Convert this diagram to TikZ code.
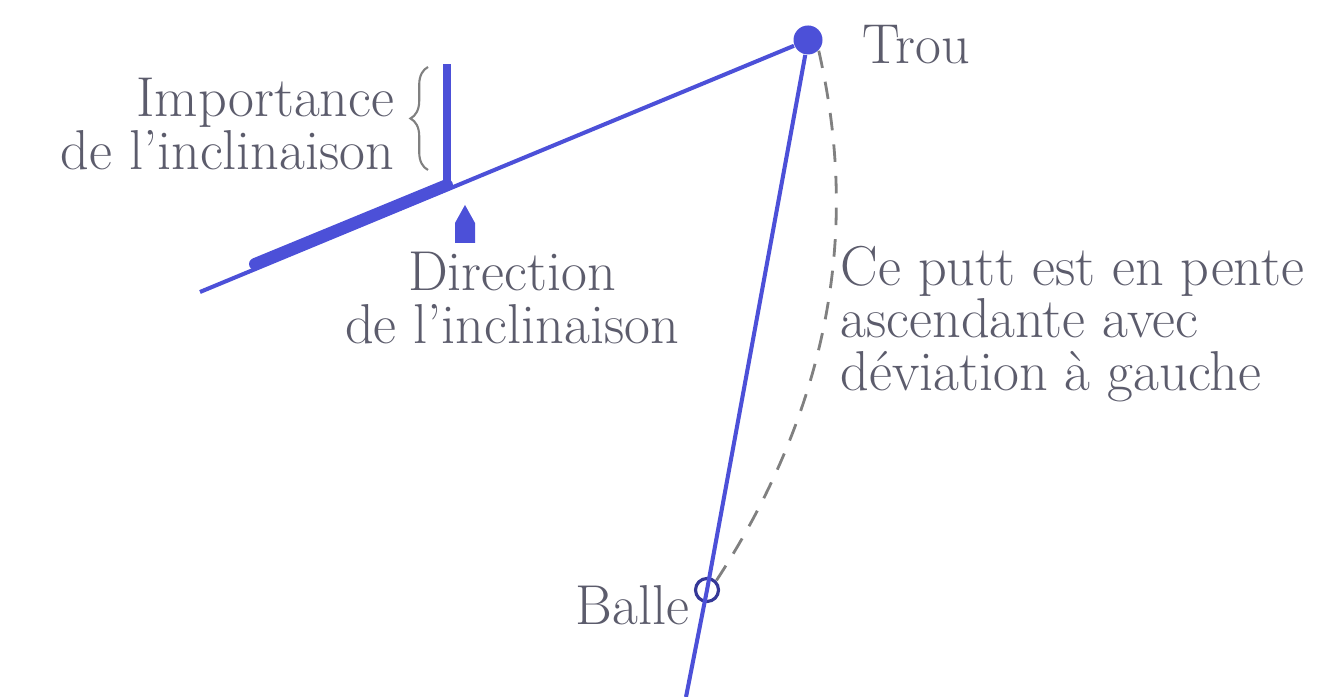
\documentclass[tikz,border=0pt]{standalone}
\usepackage{xcolor}
\definecolor{puttblue}{RGB}{76,80,216}
\definecolor{textgray}{RGB}{92,92,108}
\usepackage{tikz}
\usetikzlibrary{
  arrows.meta,
  positioning,
  calc,
  decorations.pathreplacing
}

\begin{document}
\begin{tikzpicture}[
  lbl/.style={font=\fontsize{16}{15}\selectfont, text=textgray, inner sep=0pt},
  pline/.style={puttblue, line width=1.15pt}
]
  \useasboundingbox (0,0) rectangle (13.29,6.97);

  % hole, ball and the putting line
  \node[circle, fill=puttblue, minimum size=0.29cm, inner sep=0pt] (trou) at (8.08,6.57) {};
  \node[circle, draw=puttblue!70!black, line width=0.9pt, minimum size=0.23cm, inner sep=0pt] (balle) at (7.07,1.07) {};
  \coordinate (bas) at (6.86,0);
  \coordinate (pente) at (2.00,4.05);
  \draw[pline] (bas) -- (balle.center) -- (trou);
  \draw[pline] (pente) -- (trou);

  % break of the putt
  \draw[gray, line width=0.8pt, dash pattern=on 5pt off 4pt]
    (trou.south east) .. controls (8.45,5.3) and (8.62,3.4) .. (balle.north east);

  % slope indicator
  \coordinate (barA) at (2.55,4.33);
  \coordinate (barB) at (4.47,5.12);
  \coordinate (barC) at (4.47,6.33);
  \draw[puttblue, line width=3.4pt, line cap=round] (barA) -- (barB);
  \draw[puttblue, line width=2.4pt] (barB) -- (barC);
  \draw[gray, line width=0.6pt, decorate, decoration={brace, amplitude=5pt}]
    (4.28,5.27) -- (4.28,6.30);
  \fill[puttblue] (4.55,4.54) -- (4.55,4.74) -- (4.65,4.92) -- (4.75,4.74) -- (4.75,4.54) -- cycle;

  \node[lbl, anchor=west] (ltrou) at (8.62,6.52) {Trou};
  \node[lbl, anchor=east, align=right] (limp) at (3.95,5.73) {Importance\\de l'inclinaison};
  \node[lbl, align=center] (ldir) at (5.12,3.99) {Direction\\de l'inclinaison};
  \node[lbl, anchor=west, align=left] (lputt) at (8.40,3.73)
    {Ce putt est en pente\\ascendante avec\\déviation à gauche};
  \node[lbl, anchor=east] (lballe) at (6.90,0.92) {Balle};
\end{tikzpicture}
\end{document}
